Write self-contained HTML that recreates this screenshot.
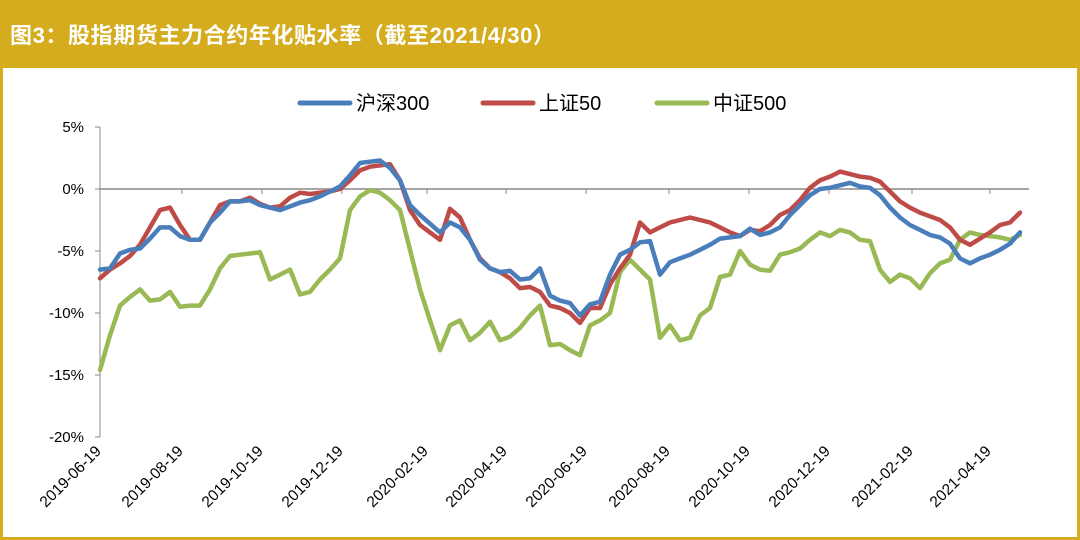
<!DOCTYPE html>
<html><head><meta charset="utf-8">
<style>
body{margin:0;width:1080px;height:540px;overflow:hidden;background:#fff;font-family:"Liberation Sans","Noto Sans CJK SC",sans-serif}
#frame{position:absolute;left:0;top:0;width:1080px;height:540px;box-sizing:border-box;border:3px solid #D4AC1E;border-top:none}
#title{position:absolute;left:0;top:0;width:1080px;height:68px;background:#D4AC1E;color:#fff;font-weight:bold;font-size:22px;line-height:72px;padding-left:10px;box-sizing:border-box;letter-spacing:0.6px}
</style></head><body>
<div id="frame"></div>
<div id="title">图3：股指期货主力合约年化贴水率（截至2021/4/30）</div>
<svg id="chart" width="1080" height="540" style="position:absolute;left:0;top:0"></svg>
<script>
const days = [];
for (let i = 0; i < 93; i++) days.push(i * 5);
const hs300 = [-6.5,-6.4,-5.2,-4.9,-4.8,-4.0,-3.1,-3.1,-3.8,-4.1,-4.1,-2.7,-1.9,-1.0,-1.0,-0.9,-1.3,-1.5,-1.7,-1.4,-1.1,-0.9,-0.6,-0.2,0.2,1.1,2.1,2.2,2.3,1.7,0.7,-1.3,-2.1,-2.8,-3.5,-2.7,-3.1,-4.1,-5.7,-6.4,-6.7,-6.6,-7.3,-7.2,-6.4,-8.6,-9.0,-9.2,-10.2,-9.3,-9.1,-6.9,-5.3,-4.9,-4.3,-4.2,-6.9,-5.9,-5.6,-5.3,-4.9,-4.5,-4.0,-3.9,-3.8,-3.2,-3.7,-3.5,-3.1,-2.1,-1.3,-0.5,0,0.1,0.3,0.5,0.2,0.1,-0.5,-1.5,-2.3,-2.9,-3.3,-3.7,-3.9,-4.4,-5.6,-6.0,-5.6,-5.3,-4.9,-4.4,-3.5];
const sz50 = [-7.2,-6.5,-6.0,-5.4,-4.5,-3.1,-1.7,-1.5,-2.9,-4.1,-4.1,-2.7,-1.3,-1.0,-1.0,-0.7,-1.2,-1.5,-1.4,-0.7,-0.3,-0.4,-0.3,-0.2,0,0.7,1.5,1.8,1.9,2.0,0.7,-1.7,-2.9,-3.5,-4.1,-1.6,-2.3,-4.1,-5.6,-6.4,-6.7,-7.2,-8.0,-7.9,-8.3,-9.4,-9.6,-10.0,-10.8,-9.6,-9.6,-7.7,-6.4,-5.3,-2.7,-3.5,-3.1,-2.7,-2.5,-2.3,-2.5,-2.7,-3.1,-3.5,-3.8,-3.3,-3.4,-2.9,-2.1,-1.7,-0.9,0.1,0.7,1.0,1.4,1.2,1.0,0.9,0.6,-0.2,-1.0,-1.5,-1.9,-2.2,-2.5,-3.1,-4.1,-4.5,-4.0,-3.5,-2.9,-2.7,-1.9];
const zz500 = [-14.6,-11.8,-9.4,-8.7,-8.1,-9.0,-8.9,-8.3,-9.5,-9.4,-9.4,-8.1,-6.4,-5.4,-5.3,-5.2,-5.1,-7.3,-6.9,-6.5,-8.5,-8.3,-7.3,-6.5,-5.6,-1.7,-0.6,-0.1,-0.3,-0.9,-1.7,-4.9,-8.1,-10.6,-13.0,-11.0,-10.6,-12.2,-11.6,-10.7,-12.2,-11.9,-11.2,-10.2,-9.4,-12.6,-12.5,-13.0,-13.4,-11.0,-10.6,-10.0,-6.7,-5.7,-6.5,-7.3,-12.0,-11.0,-12.2,-12.0,-10.2,-9.6,-7.1,-6.9,-5.0,-6.1,-6.5,-6.6,-5.3,-5.1,-4.8,-4.1,-3.5,-3.8,-3.3,-3.5,-4.1,-4.2,-6.5,-7.5,-6.9,-7.2,-8.0,-6.8,-6.0,-5.7,-4.1,-3.5,-3.7,-3.8,-3.9,-4.1,-3.7];
const tickDays = [0,41,81,121,163.5,203,243,284.5,324.5,364.5,406,445];
const tickLabels = ["2019-06-19","2019-08-19","2019-10-19","2019-12-19","2020-02-19","2020-04-19","2020-06-19","2020-08-19","2020-10-19","2020-12-19","2021-02-19","2021-04-19"];
const yTicks = [5,0,-5,-10,-15,-20];
const seriesNames = ["沪深300","上证50","中证500"];

const NS = "http://www.w3.org/2000/svg";
const svg = document.getElementById("chart");
const X0 = 100, X1 = 1029, DMAX = 464.5;
const xs = d => X0 + d / DMAX * (X1 - X0);
const ys = v => 189 - v * 12.4;
function mk(tag, attrs, parent) {
  const e = document.createElementNS(NS, tag);
  for (const k in attrs) e.setAttribute(k, attrs[k]);
  (parent || svg).appendChild(e);
  return e;
}
let ax = mk("line", {x1: X0, y1: ys(5), x2: X0, y2: ys(-20), stroke: "#888", "stroke-width": 1});


yTicks.forEach(v => {
  const t = mk("line", {x1: X0 - 5, y1: ys(v), x2: X0, y2: ys(v), stroke: "#888"});
  
  
  const l = mk("text", {x: 84, y: ys(v) + 5, "text-anchor": "end", "font-size": 15, fill: "#000"});
  l.textContent = v + "%";
  
  
});
ax = mk("line", {x1: X0, y1: ys(0), x2: X1, y2: ys(0), stroke: "#888", "stroke-width": 1.5});


tickDays.forEach((d, i) => {
  const x = xs(d);
  const t = mk("line", {x1: x, y1: ys(0), x2: x, y2: ys(0) + 5, stroke: "#888"});
  
  
  const l = mk("text", {x: x + 2, y: 452, "text-anchor": "end", "font-size": 15.5, fill: "#000", transform: `rotate(-45 ${x + 2} 452)`});
  l.textContent = tickLabels[i];
  
  
});
const colors = ["#4A7EBB", "#BE4B48", "#98B954"];
const all = [hs300, sz50, zz500];
const snames = ["line-hs300", "line-sz50", "line-zz500"];
[2, 1, 0].forEach(s => {
  const pts = all[s].map((v, i) => xs(days[i]).toFixed(1) + "," + ys(v).toFixed(1)).join(" ");
  const p = mk("polyline", {points: pts, fill: "none", stroke: colors[s], "stroke-width": 4.5, "stroke-linejoin": "round", "stroke-linecap": "round"});
  
  
});
const legX = [300, 483, 657];
seriesNames.forEach((n, i) => {
  const g = mk("g", {});
  
  
  mk("line", {x1: legX[i], y1: 103, x2: legX[i] + 50, y2: 103, stroke: colors[i], "stroke-width": 5, "stroke-linecap": "round"}, g);
  const t = mk("text", {x: legX[i] + 56, y: 110, "font-size": 20, fill: "#000"}, g);
  t.textContent = n;
});
</script>
</body></html>
